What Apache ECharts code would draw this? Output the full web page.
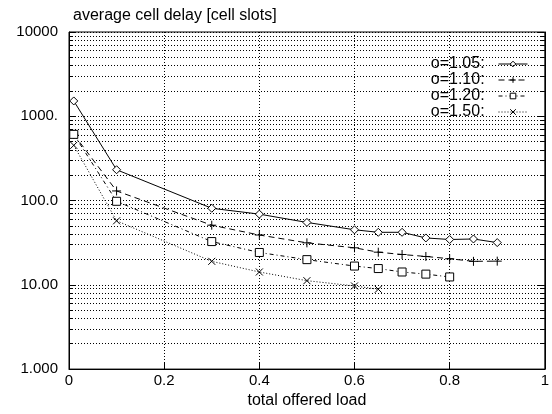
<!DOCTYPE html>
<html><head><meta charset="utf-8">
<script src="https://cdn.jsdelivr.net/npm/echarts@6/dist/echarts.min.js"></script>
<style>html,body{margin:0;padding:0;background:#fff}#c{width:552px;height:414px}</style>
</head><body><div id="c"></div>
<script>
const xLoad105 = [0.01, 0.1, 0.3, 0.4, 0.5, 0.6, 0.65, 0.7, 0.75, 0.8, 0.85, 0.9];
const delay105 = [1520, 232, 81, 69, 55, 45, 42, 42, 36, 34.5, 35, 31.7];
const xLoad110 = [0.01, 0.1, 0.3, 0.4, 0.5, 0.6, 0.65, 0.7, 0.75, 0.8, 0.85, 0.9];
const delay110 = [610, 130, 51, 39, 31.5, 27.5, 24.4, 22.9, 21.7, 20.4, 19, 19.1];
const xLoad120 = [0.01, 0.1, 0.3, 0.4, 0.5, 0.6, 0.65, 0.7, 0.75, 0.8];
const delay120 = [610, 98, 32.6, 24.2, 19.9, 16.7, 15.6, 14.2, 13.4, 12.4];
const xLoad150 = [0.01, 0.1, 0.3, 0.4, 0.5, 0.6, 0.65];
const delay150 = [452, 57.5, 19, 14.2, 11.2, 9.7, 8.85];
const seriesNames = ['o=1.05:', 'o=1.10:', 'o=1.20:', 'o=1.50:'];
const yTickValues = [1, 10, 100, 1000, 10000];
const yTickLabels = ['1.000', '10.00', '100.0', '1000.', '10000'];
const xTickValues = [0, 0.2, 0.4, 0.6, 0.8, 1];
const yMinorValues = [];
[1, 10, 100, 1000].forEach(d => { for (let k = 2; k <= 9; k++) yMinorValues.push(k * d); });

const FONT = 'Liberation Sans';
const grid = '#000';
const pairs = (xs, ys) => xs.map((x, i) => [x, ys[i]]);

const minorGrid = yMinorValues.map(v => ({ yAxis: v }));
const minorTicksL = yMinorValues.map(v => [{ coord: [xTickValues[0], v] }, { coord: [0.008, v] }]);
const minorTicksR = yMinorValues.map(v => [{ coord: [0.992, v] }, { coord: [xTickValues[xTickValues.length - 1], v] }]);

const common = {
  type: 'line', symbolSize: 8, animation: false,
  itemStyle: { color: '#fff', borderColor: '#000', borderWidth: 1 },
  emphasis: { disabled: true }
};

const chart = echarts.init(document.getElementById('c'), null, { renderer: 'canvas' });
chart.setOption({
  animation: false,
  textStyle: { fontFamily: FONT },
  title: { text: 'average cell delay [cell slots]', left: 68, top: 3,
    textStyle: { fontFamily: FONT, fontSize: 16, fontWeight: 'normal', color: '#000' } },
  grid: { left: 69, right: 7, top: 32, bottom: 42, show: true, borderColor: '#000', borderWidth: 1, backgroundColor: 'transparent' },
  legend: {
    orient: 'vertical', right: 19, top: 51, align: 'right', padding: 5,
    itemWidth: 29, itemHeight: 7, itemGap: 0,
    data: seriesNames,
    formatter: n => n + '  ',
    lineStyle: { width: 1 },
    itemStyle: { borderWidth: 1 },
    textStyle: { fontFamily: FONT, fontSize: 16, color: '#000', lineHeight: 16, height: 16 }
  },
  xAxis: {
    type: 'value', min: 0, max: 1, interval: 0.2,
    name: 'total offered load', nameLocation: 'middle', nameGap: 21,
    nameTextStyle: { fontFamily: FONT, fontSize: 16, color: '#000' },
    axisLine: { show: true, lineStyle: { color: '#000' } },
    axisTick: { show: true, inside: true, length: 7, lineStyle: { color: '#000' } },
    axisLabel: { margin: 4, fontSize: 15, color: '#000', fontFamily: FONT },
    splitLine: { show: true, lineStyle: { color: grid, type: [1, 2], width: 1 } }
  },
  yAxis: [{
    type: 'log', logBase: 10, min: 1, max: 10000,
    axisLine: { show: true, lineStyle: { color: '#000' } },
    axisTick: { show: true, inside: true, length: 7, lineStyle: { color: '#000' } },
    axisLabel: { margin: 11, fontSize: 15, color: '#000', fontFamily: FONT,
      formatter: v => { const i = yTickValues.findIndex(t => Math.abs(t - v) < 1e-6 * t); return i >= 0 ? yTickLabels[i] : ''; } },
    splitLine: { show: true, lineStyle: { color: grid, type: [1, 2], width: 1 } }
  }, {
    type: 'log', logBase: 10, min: 1, max: 10000, position: 'right',
    axisLine: { show: true, lineStyle: { color: '#000' } },
    axisTick: { show: true, inside: true, length: 7, lineStyle: { color: '#000' } },
    axisLabel: { show: false }, splitLine: { show: false }
  }],
  series: [
    Object.assign({}, common, { name: 'minor', data: [], legendHoverLink: false, silent: true,
      markLine: { silent: true, symbol: ['none', 'none'], label: { show: false }, animation: false,
        lineStyle: { color: grid, type: [1, 2], width: 1 },
        data: minorGrid.concat(minorTicksL.map(p => [Object.assign({}, p[0], { lineStyle: { type: 'solid', color: '#000' } }), p[1]]),
                                minorTicksR.map(p => [Object.assign({}, p[0], { lineStyle: { type: 'solid', color: '#000' } }), p[1]])) } }),
    Object.assign({}, common, { name: seriesNames[0], data: pairs(xLoad105, delay105), symbol: 'diamond', symbolSize: 8,
      lineStyle: { color: '#000', width: 1, type: 'solid' }, z: 5 }),
    Object.assign({}, common, { name: seriesNames[1], data: pairs(xLoad110, delay110), symbol: 'path://M0,5 L10,5 M5,0 L5,10', symbolSize: 9,
      lineStyle: { color: '#000', width: 1, type: [6, 4] }, z: 5 }),
    Object.assign({}, common, { name: seriesNames[2], data: pairs(xLoad120, delay120), symbol: 'rect', symbolSize: 8,
      lineStyle: { color: '#000', width: 1, type: [4, 3, 1, 3] }, z: 5 }),
    Object.assign({}, common, { name: seriesNames[3], data: pairs(xLoad150, delay150), symbol: 'path://M0,0 L10,10 M10,0 L0,10', symbolSize: 7,
      lineStyle: { color: '#000', width: 1, type: [1, 2] }, z: 5 })
  ]
});
</script></body></html>
